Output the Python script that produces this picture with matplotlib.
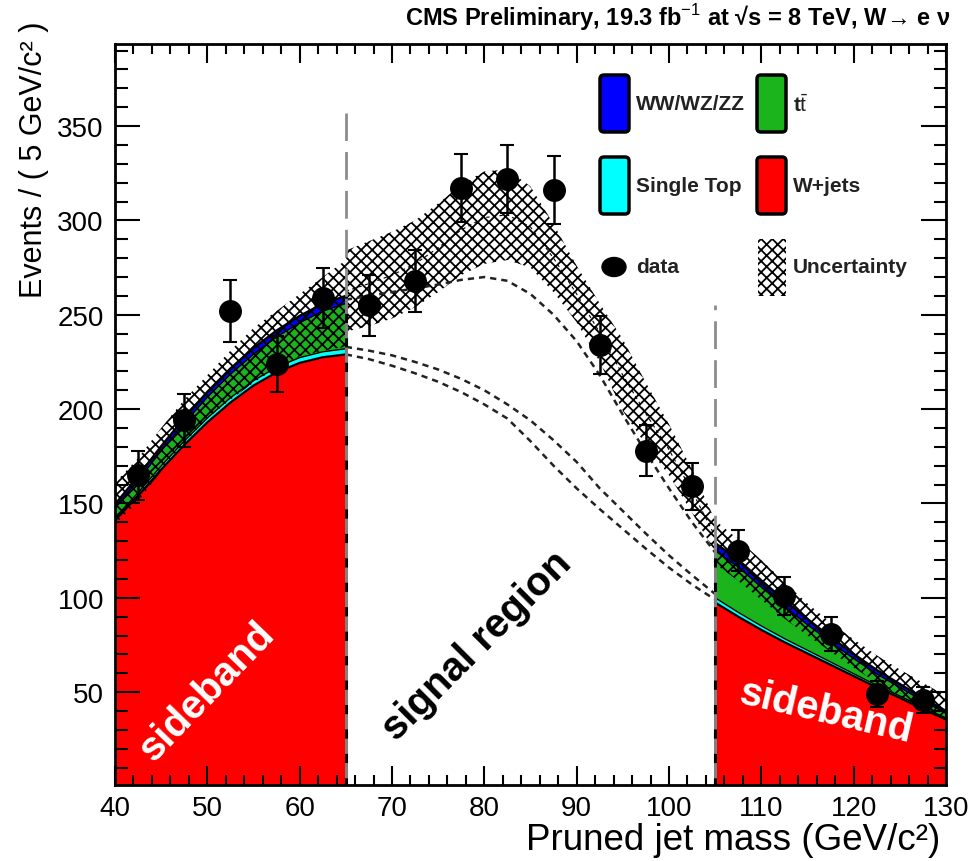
import matplotlib
matplotlib.use("Agg")

import matplotlib.pyplot as plt
import matplotlib.font_manager as fm
from matplotlib.patches import FancyBboxPatch, Rectangle, Ellipse
from matplotlib.ticker import MultipleLocator
from matplotlib.transforms import IdentityTransform
import numpy as np

# ---------------------------
# Data
# ---------------------------
# left sideband, stacked backgrounds
x_left = [40, 42.5, 45, 47.5, 50, 52.5, 55, 57.5, 60, 62.5, 65]
wjets_left = [141, 154, 168, 181, 193, 203.5, 212.5, 219.5, 224.5, 227.5, 229]
stop_left = [1.5, 1.7, 1.9, 2.1, 2.3, 2.5, 2.6, 2.7, 2.8, 2.9, 3.0]
ttbar_left = [5, 6.5, 8, 9.5, 11, 12.5, 14, 16, 18.5, 21.5, 24]
vv_left = [2, 2.2, 2.4, 2.6, 2.8, 3, 3.2, 3.4, 3.6, 3.8, 4]
unc_lo_left = [139, 151, 167, 182, 195, 205, 214, 222, 228, 231, 233]
unc_hi_left = [161, 174, 190, 205, 218, 231, 243, 252, 261, 270, 279]

# right sideband, stacked backgrounds
x_right = [105, 107.5, 110, 112.5, 115, 117.5, 120, 122.5, 125, 127.5, 130]
wjets_right = [97.5, 90, 83, 76.5, 70.5, 64.5, 58.5, 52.5, 47, 41, 35.5]
stop_right = [2.5, 2.3, 2.1, 1.9, 1.7, 1.5, 1.3, 1.1, 1.0, 0.9, 0.8]
ttbar_right = [25, 24, 20.5, 17, 13.5, 10.5, 8, 6, 4.5, 3.5, 2.5]
vv_right = [4, 3.8, 3.6, 3.3, 3, 2.7, 2.4, 2.1, 1.8, 1.5, 1.2]
unc_lo_right = [118, 109, 99, 89, 80, 71.5, 63, 55, 48, 42, 36]
unc_hi_right = [141, 131, 120, 108.5, 97, 87, 78, 69.5, 62, 55, 48]

# signal region: uncertainty band and dashed curves
x_sig = [65, 67.5, 70, 72.5, 75, 77.5, 80, 82.5, 85, 87.5, 90, 92.5, 95, 97.5, 100, 102.5, 105]
unc_hi_sig = [284, 289, 294, 300, 309, 319, 326, 327, 318, 298, 276, 256, 237, 214, 192, 168, 141]
unc_lo_sig = [241, 244, 248, 254, 262, 271, 277, 279, 275, 262, 246, 225, 199, 181, 165, 145, 124]
total_sig = [258, 260, 262, 264, 266, 268.5, 270, 268, 261, 250, 236, 218, 197, 177, 158, 140, 124]
wjets_fit_a = [233, 231, 228.5, 225, 221, 216, 210, 202.5, 194, 183.5, 172, 158, 146, 134, 122.5, 112, 102]
wjets_fit_b = [229, 226.5, 223, 219, 214.5, 209, 202.5, 195, 183, 170, 158, 147, 136.5, 126, 116, 107, 99]

# data points
x_data = [42.5, 47.5, 52.5, 57.5, 62.5, 67.5, 72.5, 77.5, 82.5, 87.5,
          92.5, 97.5, 102.5, 107.5, 112.5, 117.5, 122.5, 127.5]
y_data = [165, 194, 252, 224, 259, 255, 268, 317, 322, 316,
          234, 178, 159, 125, 101, 81, 49, 46]
y_err = [13, 14, 16.5, 15, 16, 16, 16.5, 18, 18, 18,
         15.5, 13.5, 12.5, 11, 10, 9, 7, 7]

# legend entries (label, colour)
legend_fills = [("WW/WZ/ZZ", "#0000ff"), (r"t$\bar{\mathrm{t}}$", "#1cb41c"),
                ("Single Top", "#00ffff"), ("W+jets", "#ff0000")]

RED, CYAN, GREEN, BLUE = "#ff0000", "#00ffff", "#1cb41c", "#0000ff"
HATCH = "xxx"

# ---------------------------
# Style
# ---------------------------
names = {f.name for f in fm.fontManager.ttflist}
NARROW = "Liberation Sans Narrow" if "Liberation Sans Narrow" in names else "Liberation Sans"
plt.rcParams["font.family"] = ["Liberation Sans", "DejaVu Sans"]
plt.rcParams["mathtext.fontset"] = "custom"
plt.rcParams["mathtext.rm"] = "Liberation Sans"
plt.rcParams["mathtext.bf"] = "Liberation Sans:bold"
plt.rcParams["hatch.linewidth"] = 1.3

W, H = 970, 862
fig = plt.figure(figsize=(W / 100, H / 100), dpi=100)
ax = fig.add_axes([115 / W, 76 / H, (946 - 115) / W, (786 - 45) / H])


def draw_stack(x, wj, st, tt, vv, lo, hi):
    x = np.asarray(x)
    wj = np.asarray(wj)
    st_top = wj + np.asarray(st)
    tt_top = st_top + np.asarray(tt)
    vv_top = tt_top + np.asarray(vv)
    ax.fill_between(x, 0, wj, color=RED, lw=0, zorder=1)
    ax.fill_between(x, wj, st_top, color=CYAN, lw=0, zorder=1)
    ax.fill_between(x, st_top, tt_top, color=GREEN, lw=0, zorder=1)
    ax.fill_between(x, tt_top, vv_top, color=BLUE, lw=0, zorder=1)
    ax.plot(x, wj, color="k", lw=1.6, zorder=2)
    ax.plot(x, st_top, color="k", lw=1.0, zorder=2)
    ax.plot(x, tt_top, color="k", lw=1.0, zorder=2)
    ax.plot(x, vv_top, color="k", lw=1.8, zorder=2)
    ax.fill_between(x, lo, hi, facecolor="none", edgecolor="k", hatch=HATCH, lw=0, zorder=3)
    return vv_top


top_l = draw_stack(x_left, wjets_left, stop_left, ttbar_left, vv_left, unc_lo_left, unc_hi_left)
top_r = draw_stack(x_right, wjets_right, stop_right, ttbar_right, vv_right, unc_lo_right, unc_hi_right)

# signal region
ax.fill_between(x_sig, unc_lo_sig, unc_hi_sig, facecolor="none", edgecolor="k", hatch=HATCH, lw=0, zorder=3)
mid_sig = (np.asarray(unc_lo_sig) + np.asarray(unc_hi_sig)) / 2
ax.plot(x_sig, mid_sig, color="k", lw=0.8, ls=(0, (3, 3)), zorder=3)
for curve in (total_sig, wjets_fit_a, wjets_fit_b):
    ax.plot(x_sig, curve, color="#222222", lw=1.8, ls=(0, (2.5, 2.0)), zorder=3)

# region boundaries
for xb, stack_top, line_top in ((65, top_l[-1], 357), (105, top_r[0], 255)):
    ax.plot([xb, xb], [0, stack_top], color="#808080", lw=2.2, zorder=4)
    ax.plot([xb, xb], [0, stack_top], color="k", lw=2.2, ls=(0, (3, 5)), zorder=4)
    ax.plot([xb, xb], [stack_top, line_top], color="#8c8c8c", lw=2.0, ls=(0, (10, 4)), zorder=4)

# data
ax.errorbar(x_data, y_data, yerr=y_err, fmt="o", color="k", ms=15.5,
            elinewidth=1.8, capsize=5, capthick=1.5, zorder=6)

# axes
ax.set_xlim(40, 130)
ax.set_ylim(0.8, 393.5)
ax.xaxis.set_major_locator(MultipleLocator(10))
ax.xaxis.set_minor_locator(MultipleLocator(2))
ax.yaxis.set_major_locator(MultipleLocator(50))
ax.yaxis.set_minor_locator(MultipleLocator(10))
ax.tick_params(which="both", direction="in", top=True, right=True, width=1.5, labelsize=20)
ax.tick_params(axis="x", which="major", length=14, pad=7)
ax.tick_params(axis="x", which="minor", length=7)
ax.tick_params(axis="y", which="major", length=18, pad=8)
ax.tick_params(axis="y", which="minor", length=9)
for s in ax.spines.values():
    s.set_linewidth(2)
    s.set_zorder(7)


def P(px, py):
    return px / W, 1 - py / H


# titles / axis labels
fig.text(*P(950, 18), "CMS Preliminary, 19.3 fb$^{-1}$ at √s = 8 TeV, W→ e ν",
         ha="right", va="center", fontsize=17, fontweight="bold", family=[NARROW, "DejaVu Sans"])
fig.text(*P(940, 841), "Pruned jet mass (GeV/c²)", ha="right", va="center", fontsize=26.5)
fig.text(*P(34, 22), "Events / ( 5 GeV/c² )", ha="center", va="top", rotation=90, fontsize=22)

# region labels
fig.text(*P(207, 692), "sideband", color="white", fontsize=29, fontweight="bold",
         rotation=46, ha="center", va="center", rotation_mode="anchor")
fig.text(*P(477, 646), "signal region", color="black", fontsize=29, fontweight="bold",
         rotation=45, ha="center", va="center", rotation_mode="anchor")
fig.text(*P(826, 712), "sideband", color="white", fontsize=29, fontweight="bold",
         rotation=-13, ha="center", va="center", rotation_mode="anchor")

# legend (pixel layout, top-left origin)
ident = IdentityTransform()
box_pos = [(600, 76), (757, 76), (600, 158), (757, 158)]
for (label, col), (bx, by) in zip(legend_fills, box_pos):
    fig.add_artist(FancyBboxPatch((bx, H - by - 57), 29, 57,
                                  boxstyle="round,pad=0,rounding_size=4",
                                  facecolor=col, edgecolor="k", lw=2.5, transform=ident))
    fig.text(*P(bx + 36, by + 29), label, ha="left", va="center", fontsize=15,
             fontweight="bold", color="#222222")
fig.add_artist(Ellipse((614, H - 268), 24, 19, facecolor="k", edgecolor="k", transform=ident))
fig.text(*P(636, 268), "data", ha="left", va="center", fontsize=15, fontweight="bold", color="#222222")
fig.add_artist(Rectangle((758, H - 297), 28, 57, facecolor="none", edgecolor="k",
                         hatch=HATCH, lw=0, transform=ident))
fig.text(*P(793, 268), "Uncertainty", ha="left", va="center", fontsize=15, fontweight="bold", color="#222222")

fig.savefig("out.png", dpi=100)
